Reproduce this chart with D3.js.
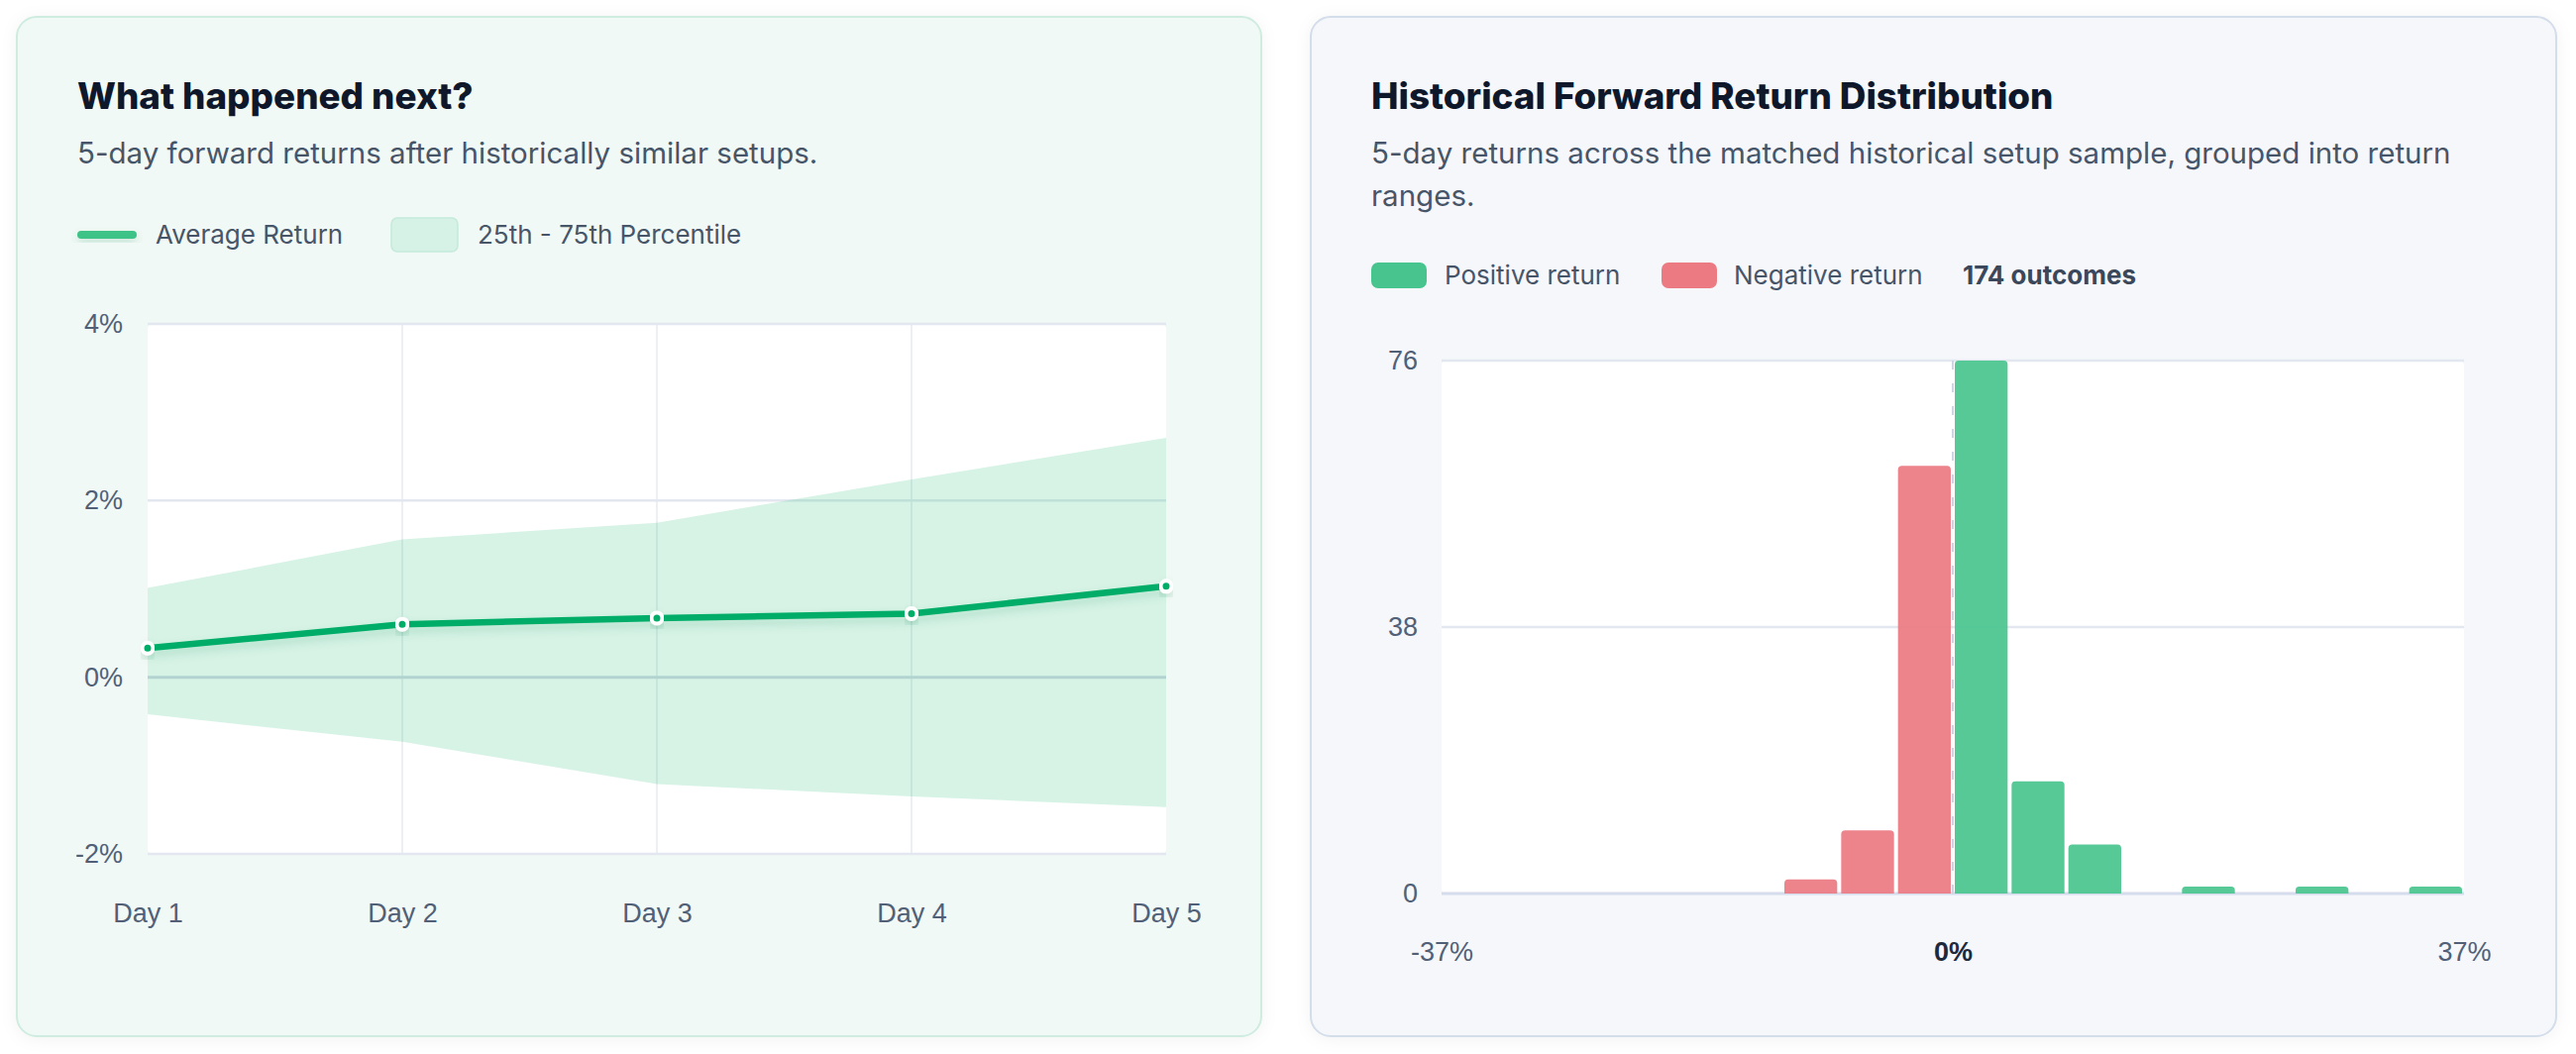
<!DOCTYPE html>
<html lang="en">
<head>
    <meta charset="UTF-8">
    <title>Forward returns</title>
    <script src="https://cdn.jsdelivr.net/npm/d3@7/dist/d3.min.js"></script>
    <style>
        html, body {
            margin: 0;
            padding: 0;
            background: #ffffff;
        }
        svg {
            display: block;
            font-family: Inter, "Noto Sans", sans-serif;
        }
        .title { font-size: 36.8px; font-weight: 800; fill: #0f172a; }
        .subtitle { font-size: 29.5px; fill: #475569; }
        .legend { font-size: 26px; fill: #475569; }
        .tick-label { font-size: 27px; fill: #516077; }
    </style>
</head>
<body>
<script>
    // data: left chart (percent)
    const days = ['Day 1', 'Day 2', 'Day 3', 'Day 4', 'Day 5'];
    const avgReturn = [0.33, 0.60, 0.67, 0.72, 1.03];
    const p75 = [1.01, 1.56, 1.75, 2.24, 2.71];
    const p25 = [-0.42, -0.73, -1.21, -1.35, -1.47];
    const leftTicks = [4, 2, 0, -2];

    // data: right chart (histogram counts, 18 bins from -37% to 37%)
    const binCounts = [0, 0, 0, 0, 0, 0, 2, 9, 61, 76, 16, 7, 0, 1, 0, 1, 0, 1];
    const returnRange = [-37, 37];
    const countTicks = [0, 38, 76];
    const xTickLabels = ['-37%', '0%', '37%'];
    const totalOutcomes = 174;

    const width = 2600;
    const height = 1064;

    const svg = d3.select('body')
        .append('svg')
        .attr('width', width)
        .attr('height', height);

    const defs = svg.append('defs');

    const cardShadow = defs.append('filter')
        .attr('id', 'cardShadow')
        .attr('x', '-5%').attr('y', '-5%')
        .attr('width', '110%').attr('height', '110%');
    cardShadow.append('feDropShadow')
        .attr('dx', 0).attr('dy', 2)
        .attr('stdDeviation', 8)
        .attr('flood-color', '#0f172a')
        .attr('flood-opacity', 0.05);

    const lineShadow = defs.append('filter')
        .attr('id', 'lineShadow')
        .attr('x', '-10%').attr('y', '-50%')
        .attr('width', '120%').attr('height', '200%');
    lineShadow.append('feDropShadow')
        .attr('dx', 0).attr('dy', 5)
        .attr('stdDeviation', 5)
        .attr('flood-color', '#0a7a4a')
        .attr('flood-opacity', 0.18);

    // cards
    svg.append('rect')
        .attr('x', 17).attr('y', 17)
        .attr('width', 1256).attr('height', 1029)
        .attr('rx', 20)
        .attr('fill', '#f0f9f5')
        .attr('stroke', '#cfece0')
        .attr('stroke-width', 2)
        .attr('filter', 'url(#cardShadow)');

    svg.append('rect')
        .attr('x', 1323).attr('y', 17)
        .attr('width', 1257).attr('height', 1029)
        .attr('rx', 20)
        .attr('fill', '#f5f7fb')
        .attr('stroke', '#d4ddea')
        .attr('stroke-width', 2)
        .attr('filter', 'url(#cardShadow)');

    // ---------- left chart ----------
    const left = svg.append('g');

    left.append('text').attr('class', 'title')
        .attr('x', 78).attr('y', 110)
        .text('What happened next?');
    left.append('text').attr('class', 'subtitle')
        .attr('x', 78).attr('y', 165)
        .text('5-day forward returns after historically similar setups.');

    // legend
    left.append('rect')
        .attr('x', 78).attr('y', 233)
        .attr('width', 60).attr('height', 8)
        .attr('rx', 4)
        .attr('fill', '#3cc287')
        .attr('filter', 'url(#lineShadow)');
    left.append('text').attr('class', 'legend')
        .attr('x', 157).attr('y', 246)
        .text('Average Return');
    left.append('rect')
        .attr('x', 395).attr('y', 220)
        .attr('width', 67).attr('height', 34)
        .attr('rx', 6)
        .attr('fill', '#d6f1e5')
        .attr('stroke', '#c4eadb')
        .attr('stroke-width', 1.5);
    left.append('text').attr('class', 'legend')
        .attr('x', 482).attr('y', 246)
        .text('25th - 75th Percentile');

    const x = d3.scalePoint()
        .domain(days)
        .range([149, 1177]);

    const y = d3.scaleLinear()
        .domain([-2, 4])
        .range([862, 327]);

    // plot background
    left.append('rect')
        .attr('x', x.range()[0]).attr('y', y(4))
        .attr('width', x.range()[1] - x.range()[0])
        .attr('height', y(-2) - y(4))
        .attr('rx', 5)
        .attr('fill', '#ffffff');

    // vertical grid
    left.append('g')
        .selectAll('line')
        .data(days.slice(1, -1))
        .join('line')
        .attr('x1', d => x(d)).attr('x2', d => x(d))
        .attr('y1', y(4)).attr('y2', y(-2))
        .attr('stroke', '#e6eaf0')
        .attr('stroke-width', 1.5);

    // horizontal grid
    left.append('g')
        .selectAll('line')
        .data(leftTicks)
        .join('line')
        .attr('x1', x.range()[0]).attr('x2', x.range()[1])
        .attr('y1', d => y(d)).attr('y2', d => y(d))
        .attr('stroke', d => d === 0 ? '#d3d8e4' : '#e3e7ef')
        .attr('stroke-width', d => d === 0 ? 3 : 2.5);

    const bandData = days.map((d, i) => ({ day: d, lo: p25[i], hi: p75[i], avg: avgReturn[i] }));

    // percentile band
    left.append('path')
        .datum(bandData)
        .attr('d', d3.area()
            .x(d => x(d.day))
            .y0(d => y(d.lo))
            .y1(d => y(d.hi)))
        .attr('fill', 'rgba(52, 196, 128, 0.2)');

    // average line
    left.append('path')
        .datum(bandData)
        .attr('d', d3.line()
            .x(d => x(d.day))
            .y(d => y(d.avg)))
        .attr('fill', 'none')
        .attr('stroke', '#03ad68')
        .attr('stroke-width', 6.5)
        .attr('stroke-linejoin', 'round')
        .attr('filter', 'url(#lineShadow)');

    left.append('g')
        .selectAll('circle')
        .data(bandData)
        .join('circle')
        .attr('cx', d => x(d.day))
        .attr('cy', d => y(d.avg))
        .attr('r', 5.5)
        .attr('fill', '#03ad68')
        .attr('stroke', '#ffffff')
        .attr('stroke-width', 4)
        .attr('filter', 'url(#lineShadow)');

    // axes labels
    const yAxisL = left.append('g')
        .attr('transform', 'translate(124,0)')
        .call(d3.axisLeft(y).tickValues(leftTicks).tickSize(0).tickPadding(0).tickFormat(d => d + '%'));
    yAxisL.select('.domain').remove();
    yAxisL.selectAll('text')
        .attr('class', 'tick-label')
        .attr('font-family', null).attr('font-size', null)
        .attr('fill', null);

    const xAxisL = left.append('g')
        .attr('transform', 'translate(0,' + (y(-2)) + ')')
        .call(d3.axisBottom(x).tickSize(0).tickPadding(0));
    xAxisL.select('.domain').remove();
    xAxisL.selectAll('text')
        .attr('class', 'tick-label')
        .attr('font-family', null).attr('font-size', null)
        .attr('fill', null)
        .attr('dy', null)
        .attr('y', 69);

    // ---------- right chart ----------
    const right = svg.append('g');

    right.append('text').attr('class', 'title')
        .attr('x', 1384).attr('y', 110)
        .text('Historical Forward Return Distribution');
    right.append('text').attr('class', 'subtitle')
        .attr('x', 1384).attr('y', 165)
        .text('5-day returns across the matched historical setup sample, grouped into return');
    right.append('text').attr('class', 'subtitle')
        .attr('x', 1384).attr('y', 208)
        .text('ranges.');

    // legend
    right.append('rect')
        .attr('x', 1384).attr('y', 265)
        .attr('width', 56).attr('height', 26)
        .attr('rx', 7)
        .attr('fill', '#48c48e');
    right.append('text').attr('class', 'legend')
        .attr('x', 1458).attr('y', 287)
        .text('Positive return');
    right.append('rect')
        .attr('x', 1677).attr('y', 265)
        .attr('width', 56).attr('height', 26)
        .attr('rx', 7)
        .attr('fill', '#eb7a82');
    right.append('text').attr('class', 'legend')
        .attr('x', 1750).attr('y', 287)
        .text('Negative return');
    right.append('text').attr('class', 'legend')
        .attr('x', 1981).attr('y', 287)
        .attr('font-weight', 700)
        .style('fill', '#3b475a')
        .text(totalOutcomes + ' outcomes');

    const hx = d3.scaleLinear()
        .domain(returnRange)
        .range([1455, 2487]);

    const hy = d3.scaleLinear()
        .domain([0, 76])
        .range([902, 364]);

    const binW = (returnRange[1] - returnRange[0]) / binCounts.length;
    const bins = binCounts.map((c, i) => ({
        x0: returnRange[0] + i * binW,
        x1: returnRange[0] + (i + 1) * binW,
        count: c
    }));

    right.append('rect')
        .attr('x', hx(returnRange[0])).attr('y', hy(76))
        .attr('width', hx(returnRange[1]) - hx(returnRange[0]))
        .attr('height', hy(0) - hy(76))
        .attr('rx', 5)
        .attr('fill', '#ffffff');

    right.append('g')
        .selectAll('line')
        .data(countTicks)
        .join('line')
        .attr('x1', hx.range()[0]).attr('x2', hx.range()[1])
        .attr('y1', d => hy(d)).attr('y2', d => hy(d))
        .attr('stroke', d => d === 0 ? '#d5dceb' : '#e3e8f0')
        .attr('stroke-width', d => d === 0 ? 3 : 2.5);

    // zero reference
    right.append('line')
        .attr('x1', hx(0)).attr('x2', hx(0))
        .attr('y1', hy(76)).attr('y2', hy(0))
        .attr('stroke', '#cdd4e4')
        .attr('stroke-width', 2)
        .attr('stroke-dasharray', '9,14');

    function barPath (d) {
        const x0 = hx(d.x0) + 2;
        const x1 = hx(d.x1) - 2;
        const yb = hy(0);
        const yt = hy(d.count);
        const r = Math.min(4, (yb - yt) / 2);
        return 'M' + x0 + ',' + yb +
            'V' + (yt + r) +
            'Q' + x0 + ',' + yt + ' ' + (x0 + r) + ',' + yt +
            'H' + (x1 - r) +
            'Q' + x1 + ',' + yt + ' ' + x1 + ',' + (yt + r) +
            'V' + yb + 'Z';
    }

    right.append('g')
        .selectAll('path')
        .data(bins.filter(d => d.count > 0))
        .join('path')
        .attr('d', barPath)
        .attr('fill', d => d.x1 <= 0 ? '#eb7a82' : '#48c48e')
        .attr('fill-opacity', 0.92);

    const yAxisR = right.append('g')
        .attr('transform', 'translate(1431,0)')
        .call(d3.axisLeft(hy).tickValues(countTicks).tickSize(0).tickPadding(0));
    yAxisR.select('.domain').remove();
    yAxisR.selectAll('text')
        .attr('class', 'tick-label')
        .attr('font-family', null).attr('font-size', null)
        .attr('fill', null);

    const xAxisR = right.append('g')
        .attr('transform', 'translate(0,' + hy(0) + ')')
        .call(d3.axisBottom(hx).tickValues([returnRange[0], 0, returnRange[1]])
            .tickSize(0).tickPadding(0)
            .tickFormat((d, i) => xTickLabels[i]));
    xAxisR.select('.domain').remove();
    xAxisR.selectAll('text')
        .attr('class', 'tick-label')
        .attr('font-family', null).attr('font-size', null)
        .attr('fill', null)
        .attr('dy', null)
        .attr('y', 68)
        .attr('font-weight', d => d === 0 ? 700 : 400)
        .style('fill', d => d === 0 ? '#1e293b' : null);
</script>
</body>
</html>
